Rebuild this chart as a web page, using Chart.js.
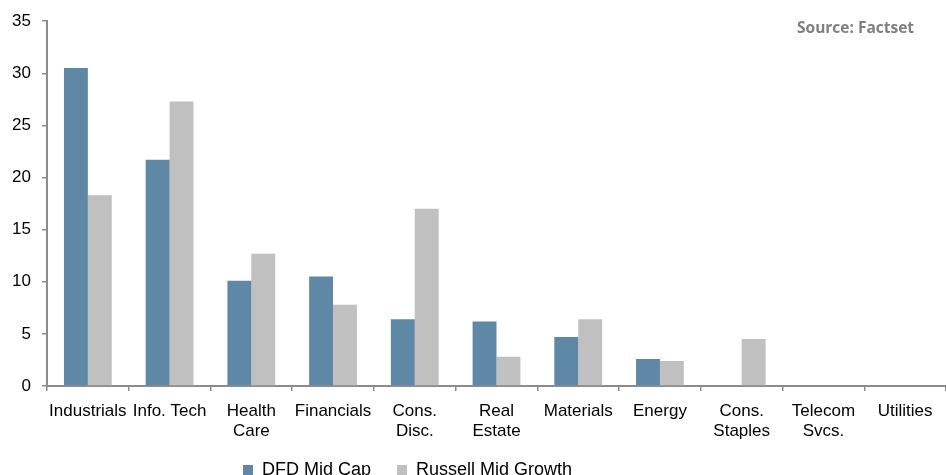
<!DOCTYPE html>
<html><head><meta charset="utf-8">
<script src="https://cdn.jsdelivr.net/npm/chart.js@4.4.0/dist/chart.umd.min.js"></script>
<style>
html,body{margin:0;padding:0;overflow:hidden;background:#fff;width:946px;height:475px}
#wrap{position:relative;width:946px;height:500px}
#src{position:absolute;left:797px;top:19px;font:bold 15.5px "Open Sans",sans-serif;line-height:16px;color:#7f7f7f;white-space:nowrap}
</style></head><body>
<div id="wrap"><canvas id="c" width="946" height="500"></canvas><div id="src">Source: Factset</div></div>
<script>
const categories = ["Industrials","Info. Tech",["Health","Care"],"Financials",["Cons.","Disc."],["Real","Estate"],"Materials","Energy",["Cons.","Staples"],["Telecom","Svcs."],"Utilities"];
const dfdMidCap = [30.5,21.7,10.1,10.5,6.4,6.2,4.7,2.6,0,0,0];
const russellMidGrowth = [18.3,27.3,12.7,7.8,17.0,2.8,6.4,2.4,4.5,0,0];
const seriesNames = ["DFD Mid Cap","Russell Mid Growth"];
const yMin = 0, yMax = 35, yStep = 5;

const axisColor = '#8c8c8c';
const font = {family:'"Liberation Sans", Arial, sans-serif', size:17};

const legendShift = {
  id:'legendShift',
  beforeDraw(chart){
    const lg = chart.legend;
    if(lg){ lg.left = 217; lg.top = 435; }
  }
};

new Chart(document.getElementById('c'), {
  type:'bar',
  data:{
    labels:categories,
    datasets:[
      {label:seriesNames[0], data:dfdMidCap, backgroundColor:'#5F87A6'},
      {label:seriesNames[1], data:russellMidGrowth, backgroundColor:'#C0C0C0'}
    ]
  },
  options:{
    responsive:false,
    animation:false,
    layout:{padding:{top:20,left:0,right:0,bottom:0}},
    datasets:{bar:{categoryPercentage:0.585, barPercentage:1}},
    plugins:{
      tooltip:{enabled:false},
      legend:{
        position:'bottom', align:'start',
        labels:{boxWidth:10, boxHeight:10, padding:26, color:'#000', font:{...font, size:18}}
      }
    },
    scales:{
      x:{
        grid:{offset:true, drawOnChartArea:false, tickLength:5, color:axisColor, lineWidth:1.5},
        border:{color:axisColor, width:2},
        ticks:{font:{...font, lineHeight:1.18}, color:'#000', maxRotation:0, minRotation:0, autoSkip:false, padding:10},
        afterFit(s){ s.height = 60; }
      },
      y:{
        min:yMin, max:yMax,
        grid:{drawOnChartArea:false, tickLength:5, color:axisColor, lineWidth:1.5},
        border:{color:axisColor, width:2},
        ticks:{stepSize:yStep, font:font, color:'#000', padding:11},
        afterFit(s){ s.width = 47; }
      }
    }
  },
  plugins:[legendShift]
});
</script>
</body></html>
